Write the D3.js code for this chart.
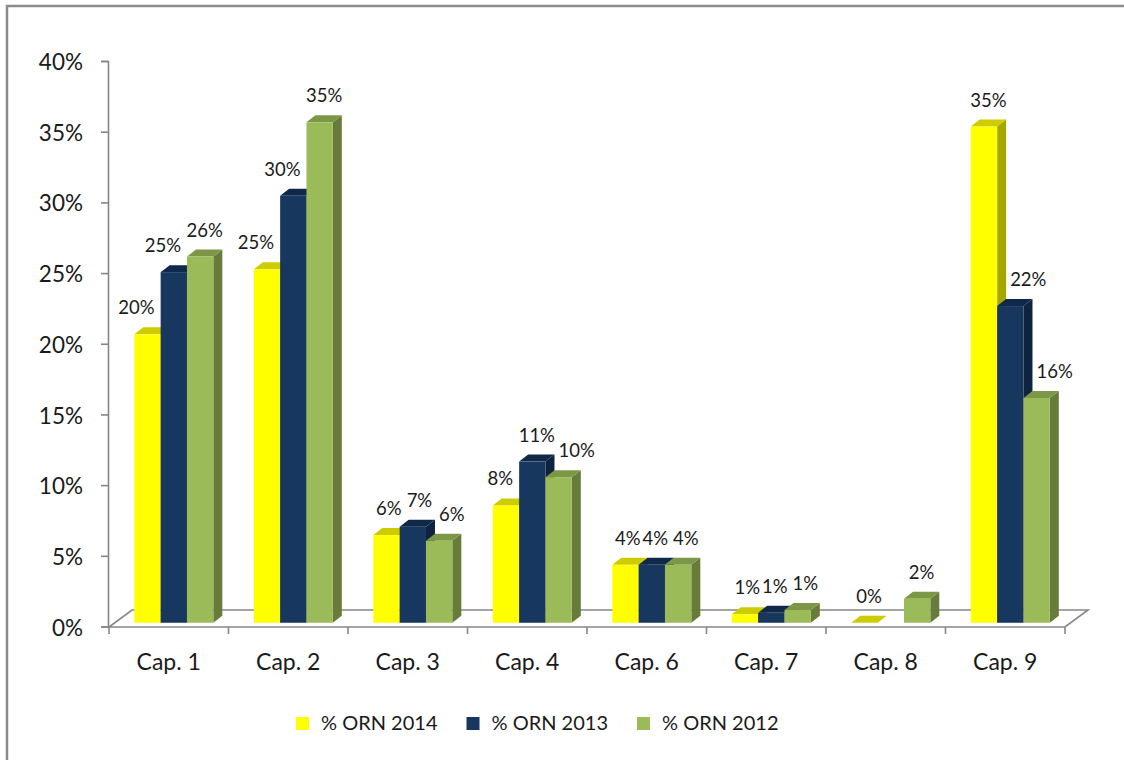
<!DOCTYPE html>
<html>
<head>
<meta charset="utf-8">
<script src="https://cdn.jsdelivr.net/npm/d3@7"></script>
<style>
  html, body { margin: 0; padding: 0; background: #fff; }
  svg { display: block; }
  text { font-family: Lato, "Open Sans", sans-serif; fill: #1a1a1a; }
</style>
</head>
<body>
<svg id="chart" width="1124" height="760"></svg>
<script>
// ---- data ----
const categories = ["Cap. 1", "Cap. 2", "Cap. 3", "Cap. 4", "Cap. 6", "Cap. 7", "Cap. 8", "Cap. 9"];
const seriesNames = ["% ORN 2014", "% ORN 2013", "% ORN 2012"];
const orn2014 = [20.4, 25.0, 6.2, 8.3, 4.1, 0.6, 0, 35.1];
const orn2013 = [24.8, 30.2, 6.8, 11.4, 4.1, 0.7, null, 22.4];
const orn2012 = [25.9, 35.4, 5.8, 10.3, 4.1, 0.9, 1.7, 15.9];
const yTicks = [0, 5, 10, 15, 20, 25, 30, 35, 40];

const seriesValues = [orn2014, orn2013, orn2012];
const colors = [
  { front: "#FFFF00", top: "#CCCC00", side: "#A6A600" },
  { front: "#17375E", top: "#10294A", side: "#0E2340" },
  { front: "#9BBB59", top: "#7C9846", side: "#677C3A" }
];

// ---- layout ----
const W = 1124, H = 760;
const plotLeft = 109, plotRight = 1065;
const yZero = 626.5, yTop = 61;
const floorDx = 23, floorDy = -17;
const barDepthFrac = 0.22;
const barDx = 9, barDy = -7;
const groupWidth = 79;
const labelSize = 18.5;

const svg = d3.select("#chart");

// frame
svg.append("path")
  .attr("d", `M7,${H + 5} L7,6 L${W + 5},6`)
  .attr("fill", "none").attr("stroke", "#8B8B8B").attr("stroke-width", 2.5);

const x0 = d3.scaleBand().domain(categories).range([plotLeft, plotRight]).padding(0);
const x1 = d3.scaleBand().domain(seriesNames).range([0, groupWidth]).padding(0);
const y = d3.scaleLinear().domain([0, 40]).range([yZero, yTop]);

// floor
const floor = svg.append("g");
floor.append("path")
  .attr("d", `M${plotLeft},${yZero + 0.5} L${plotRight},${yZero + 0.5} L${plotRight + floorDx},${yZero + 0.5 + floorDy} L${plotLeft + floorDx},${yZero + 0.5 + floorDy} Z`)
  .attr("fill", "none").attr("stroke", "#868686").attr("stroke-width", 1.6);

// x axis ticks
const xTickPos = categories.map(c => x0(c)).concat([plotRight]);
floor.selectAll("line.xt").data(xTickPos).enter().append("line")
  .attr("x1", d => d).attr("x2", d => d)
  .attr("y1", yZero + 0.5).attr("y2", yZero + 7.5)
  .attr("stroke", "#868686").attr("stroke-width", 1.6);

// y axis
const yAxis = d3.axisLeft(y).tickValues(yTicks).tickFormat(d => d + "%").tickSize(7).tickPadding(18);
const yg = svg.append("g").attr("transform", `translate(${plotLeft - 1},0)`).call(yAxis);
yg.select(".domain").attr("stroke", "#868686").attr("stroke-width", 1.6);
yg.selectAll(".tick line").attr("stroke", "#868686").attr("stroke-width", 1.6);
yg.selectAll(".tick text").attr("font-size", 22.5).attr("font-family", "Lato").attr("fill", "#1a1a1a").attr("dy", "0.38em");

// category labels
svg.append("g").selectAll("text").data(categories).enter().append("text")
  .attr("x", d => x0(d) + x0.bandwidth() / 2)
  .attr("y", 670)
  .attr("text-anchor", "middle")
  .attr("font-size", 23)
  .text(d => d);

// bars
const shiftX = (x0.bandwidth() - groupWidth) / 2 + floorDx * barDepthFrac;
const shiftY = floorDy * barDepthFrac;
const barsG = svg.append("g");
const barsData = [];
categories.forEach((c, ci) => {
  seriesNames.forEach((s, si) => {
    const v = seriesValues[si][ci];
    const bx = x0(c) + shiftX + x1(s);
    const bw = x1.bandwidth();
    barsData.push({ c, ci, s, si, v, bx, bw, base: y(0) + shiftY, top: v == null ? null : y(v) + shiftY });
  });
});

barsData.forEach(d => {
  if (d.v == null) return;
  const { bx, bw, base, top } = d;
  const col = colors[d.si];
  const g = barsG.append("g");
  g.append("path")
    .attr("d", `M${bx + bw},${top} L${bx + bw + barDx},${top + barDy} L${bx + bw + barDx},${base + barDy} L${bx + bw},${base} Z`)
    .attr("fill", col.side);
  g.append("path")
    .attr("d", `M${bx},${top} L${bx + barDx},${top + barDy} L${bx + bw + barDx},${top + barDy} L${bx + bw},${top} Z`)
    .attr("fill", col.top);
  if (base - top > 0) {
    g.append("rect")
      .attr("x", bx).attr("y", top)
      .attr("width", bw).attr("height", base - top)
      .attr("fill", col.front);
  }
});

// data labels (keep them off taller neighbouring bars and off each other)
const labelsG = svg.append("g");
const labels = [];
barsData.forEach(d => {
  if (d.v == null) return;
  const txt = Math.round(d.v) + "%";
  const t = labelsG.append("text")
    .attr("font-size", labelSize)
    .attr("text-anchor", "middle")
    .text(txt);
  const tw = t.node().getComputedTextLength();
  let cx = d.bx + d.bw / 2 + barDx / 2;
  const baseline = d.top - 20;
  const prev = barsData.find(b => b.ci === d.ci && b.si === d.si - 1 && b.v != null);
  const next = barsData.find(b => b.ci === d.ci && b.si === d.si + 1 && b.v != null);
  if (prev && prev.top + barDy < baseline) {
    const minLeft = prev.bx + prev.bw + barDx + 4;
    if (cx - tw / 2 < minLeft) cx = minLeft + tw / 2;
  } else if (next && next.top + barDy < baseline) {
    const maxRight = next.bx - 6;
    if (cx + tw / 2 > maxRight) cx = maxRight - tw / 2;
  }
  labels.push({ t, ci: d.ci, cx, baseline, tw });
});
// resolve overlaps between neighbouring labels in a category
for (let i = 1; i < labels.length; i++) {
  const a = labels[i - 1], b = labels[i];
  if (a.ci !== b.ci) continue;
  const vOverlap = Math.abs(a.baseline - b.baseline) < labelSize * 0.8;
  const gap = (b.cx - b.tw / 2) - (a.cx + a.tw / 2);
  if (vOverlap && gap < 5) {
    const need = 5 - gap;
    a.cx -= need / 2;
    b.cx += need / 2;
  }
}
labels.forEach(l => l.t.attr("x", l.cx).attr("y", l.baseline));

// legend
const legendX = d3.scalePoint().domain(seriesNames).range([296, 637]);
const lg = svg.append("g");
seriesNames.forEach((s, i) => {
  lg.append("rect")
    .attr("x", legendX(s)).attr("y", 717)
    .attr("width", 13).attr("height", 13)
    .attr("fill", colors[i].front);
  lg.append("text")
    .attr("x", legendX(s) + 25).attr("y", 730)
    .attr("font-size", 20)
    .text(s);
});
</script>
</body>
</html>
